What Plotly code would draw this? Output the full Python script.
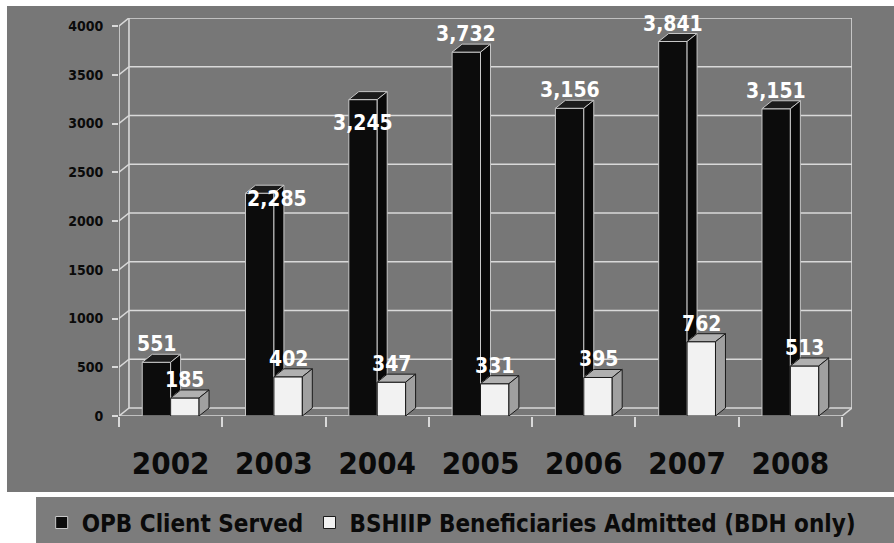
import plotly.graph_objects as go

# ---------------- data ----------------
years = ["2002", "2003", "2004", "2005", "2006", "2007", "2008"]
opb_served = [551, 2285, 3245, 3732, 3156, 3841, 3151]
bshiip_admitted = [185, 402, 347, 331, 395, 762, 513]
y_tick_values = [0, 500, 1000, 1500, 2000, 2500, 3000, 3500, 4000]
series_names = ["OPB Client Served", "BSHIIP Beneficiaries Admitted (BDH only)"]

# data-label nudges in pixels (as placed in the original chart)
opb_label_xshift = [0, 17, 0, 0, 0, 0, 0]
opb_label_yshift = [18, -6, -23, 18, 18, 18, 18]
bsh_label_yshift = [18, 18, 18, 18, 18, 18, 18]

# ---------------- geometry / style ----------------
FONT = "DejaVu Sans Condensed, DejaVu Sans, Liberation Sans, sans-serif"
BW = 0.275            # bar width in category units
DX = 0.0966           # 3-D depth, x (category units)
DY = 82               # 3-D depth, y (value units)
XMIN, XMAX = -0.5, len(years) - 0.5
YTOP = 4000
GRID = "#d9d9d9"
BG = "#777777"

xs = list(range(len(years)))


def polys(list_of_pts):
    px, py = [], []
    for pts in list_of_pts:
        for (a, b) in pts + [pts[0]]:
            px.append(a)
            py.append(b)
        px.append(None)
        py.append(None)
    return px, py


fig = go.Figure()

# front faces
fig.add_trace(go.Bar(
    x=xs, y=opb_served, width=BW, offset=-BW, name=series_names[0],
    marker=dict(color="#0c0c0c", line=dict(color="#c8c8c8", width=1)),
    legend="legend", hoverinfo="y"))
fig.add_trace(go.Bar(
    x=xs, y=bshiip_admitted, width=BW, offset=0, name=series_names[1],
    marker=dict(color="#f2f2f2", line=dict(color="#1a1a1a", width=1)),
    legend="legend2", hoverinfo="y"))

# 3-D faces
blk_top, blk_side, wht_top, wht_side = [], [], [], []
for i, b, w in zip(xs, opb_served, bshiip_admitted):
    x0, x1 = i - BW, i
    blk_top.append([(x0, b), (x1, b), (x1 + DX, b + DY), (x0 + DX, b + DY)])
    blk_side.append([(x1, w), (x1 + DX, w + DY), (x1 + DX, b + DY), (x1, b)])
    x0, x1 = i, i + BW
    wht_top.append([(x0, w), (x1, w), (x1 + DX, w + DY), (x0 + DX, w + DY)])
    wht_side.append([(x1, 0), (x1 + DX, DY), (x1 + DX, w + DY), (x1, w)])

for pts, fc, lc in [(blk_top, "#1c1c1c", "#c8c8c8"),
                    (blk_side, "#080808", "#c8c8c8"),
                    (wht_top, "#b0b0b0", "#1a1a1a"),
                    (wht_side, "#a0a0a0", "#1a1a1a")]:
    px, py = polys(pts)
    fig.add_trace(go.Scatter(x=px, y=py, mode="lines", fill="toself",
                             fillcolor=fc, line=dict(color=lc, width=1),
                             showlegend=False, hoverinfo="skip"))

# ---------------- frame (back wall, floor, axis) ----------------
shapes = []
# chart background and legend box (paper coords)
shapes.append(dict(type="rect", xref="paper", yref="paper", layer="below",
                   x0=-0.1528, x1=1.06, y0=-0.191, y1=1.030,
                   fillcolor=BG, line=dict(width=0)))
shapes.append(dict(type="rect", xref="paper", yref="paper", layer="below",
                   x0=-0.1132, x1=1.06, y0=-0.325, y1=-0.2035,
                   fillcolor="#7c7c7c", line=dict(width=0)))
ln = dict(color=GRID, width=1.6)
for v in y_tick_values:
    shapes.append(dict(type="line", xref="x", yref="y", layer="below",
                       x0=XMIN + DX, x1=XMAX + DX, y0=v + DY, y1=v + DY, line=ln))
    shapes.append(dict(type="line", xref="x", yref="y", layer="below",
                       x0=XMIN, x1=XMIN + DX, y0=v, y1=v + DY, line=ln))
# back wall verticals
for xv in (XMIN + DX, XMAX + DX):
    shapes.append(dict(type="line", xref="x", yref="y", layer="below",
                       x0=xv, x1=xv, y0=DY, y1=YTOP + DY, line=ln))
# front y axis line
shapes.append(dict(type="line", xref="x", yref="y", layer="below",
                   x0=XMIN, x1=XMIN, y0=0, y1=YTOP, line=ln))
# front floor edge and right floor diagonal
shapes.append(dict(type="line", xref="x", yref="y", layer="below",
                   x0=XMIN, x1=XMAX, y0=0, y1=0, line=ln))
shapes.append(dict(type="line", xref="x", yref="y", layer="below",
                   x0=XMAX, x1=XMAX + DX, y0=0, y1=DY, line=ln))

# ---------------- data labels ----------------
annotations = []
lab_font = dict(family=FONT, size=21, color="white", weight="bold")
for i, v in enumerate(opb_served):
    annotations.append(dict(x=i - BW / 2, y=v, xref="x", yref="y",
                            text=f"{v:,}", showarrow=False, font=lab_font,
                            xanchor="center", yanchor="middle",
                            xshift=opb_label_xshift[i], yshift=opb_label_yshift[i]))
for i, v in enumerate(bshiip_admitted):
    annotations.append(dict(x=i + BW / 2, y=v, xref="x", yref="y",
                            text=f"{v:,}", showarrow=False, font=lab_font,
                            xanchor="center", yanchor="middle",
                            yshift=bsh_label_yshift[i]))

leg_font = dict(family=FONT, size=24, color="#0a0a0a", weight="bold")
fig.update_layout(
    width=894, height=543,
    margin=dict(l=119, r=42, t=18, b=127, autoexpand=False),
    paper_bgcolor="white", plot_bgcolor="rgba(0,0,0,0)",
    barmode="overlay",
    shapes=shapes, annotations=annotations,
    showlegend=True,
    legend=dict(orientation="h", xref="container", yref="container",
                x=0.0466, y=0.037, xanchor="left", yanchor="middle",
                bgcolor="rgba(0,0,0,0)", font=leg_font),
    legend2=dict(orientation="h", xref="container", yref="container",
                 x=0.3462, y=0.037, xanchor="left", yanchor="middle",
                 bgcolor="rgba(0,0,0,0)", font=leg_font),
    xaxis=dict(range=[XMIN, XMAX + DX], tickvals=xs, ticktext=years,
               showgrid=False, zeroline=False, showline=False, ticks="",
               ticklabelstandoff=26,
               tickfont=dict(family=FONT, size=31, color="#0a0a0a", weight="bold"),
               minor=dict(ticks="outside", tick0=0.5, dtick=1, ticklen=10,
                          tickcolor=GRID, tickwidth=1.5, showgrid=False),
               fixedrange=True),
    yaxis=dict(range=[0, YTOP + DY], tickvals=y_tick_values,
               ticktext=[str(v) for v in y_tick_values],
               showgrid=False, zeroline=False, showline=False,
               ticks="outside", ticklen=6, tickcolor=GRID, tickwidth=1.5,
               ticklabelstandoff=6,
               tickfont=dict(family=FONT, size=14, color="#0a0a0a", weight="bold"),
               fixedrange=True),
)

fig.write_html("out.html", config={"displayModeBar": False},
               post_script="document.body.style.margin='0';")
